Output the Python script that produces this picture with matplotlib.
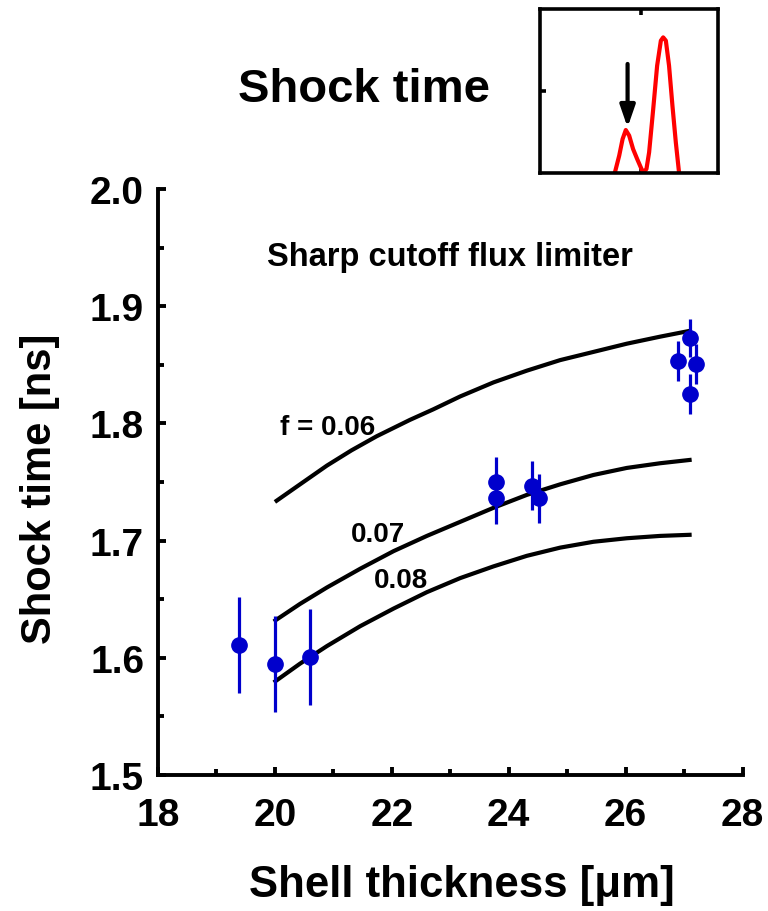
import matplotlib
matplotlib.use("Agg")
import matplotlib.pyplot as plt
from matplotlib.ticker import MultipleLocator

plt.rcParams['font.family'] = ['Liberation Sans', 'DejaVu Sans']
plt.rcParams['font.weight'] = 'bold'

# ---- data ----
# simulated curves (sharp cutoff flux limiter)
f06_x = [20.00, 20.43, 20.89, 21.31, 21.74, 22.31, 22.71, 23.17, 23.74,
         24.31, 24.88, 25.45, 26.02, 26.59, 27.10]
f06_y = [1.733, 1.748, 1.764, 1.777, 1.789, 1.803, 1.812, 1.823, 1.835,
         1.845, 1.854, 1.861, 1.868, 1.874, 1.879]
f07_x = [19.98, 20.43, 20.89, 21.46, 22.03, 22.60, 23.17, 23.74, 24.31,
         24.88, 25.45, 26.02, 26.59, 27.13]
f07_y = [1.631, 1.646, 1.660, 1.676, 1.691, 1.704, 1.716, 1.728, 1.739,
         1.748, 1.756, 1.762, 1.766, 1.769]
f08_x = [19.98, 20.43, 20.89, 21.46, 22.03, 22.60, 23.17, 23.74, 24.31,
         24.88, 25.45, 26.02, 26.59, 27.13]
f08_y = [1.579, 1.595, 1.610, 1.627, 1.642, 1.656, 1.668, 1.678, 1.687,
         1.694, 1.699, 1.702, 1.704, 1.705]

# measurements
exp_x = [19.38, 20.0, 20.6, 23.79, 23.79, 24.40, 24.51, 26.90, 27.10, 27.20, 27.10]
exp_y = [1.611, 1.595, 1.601, 1.750, 1.736, 1.747, 1.736, 1.853, 1.873, 1.851, 1.825]
exp_err = [0.041, 0.041, 0.041, 0.021, 0.022, 0.021, 0.021, 0.017, 0.016, 0.017, 0.017]

x_ticks = [18, 20, 22, 24, 26, 28]
y_ticks = [1.5, 1.6, 1.7, 1.8, 1.9, 2.0]

# inset pulse shape (normalized)
pulse_t = [0.421, 0.445, 0.464, 0.482, 0.501, 0.523, 0.546, 0.566, 0.579, 0.598,
           0.613, 0.636, 0.658, 0.679, 0.692, 0.707, 0.725, 0.744, 0.763, 0.781]
pulse_p = [0.004, 0.106, 0.207, 0.262, 0.228, 0.146, 0.085, 0.035, 0.004, 0.024,
           0.126, 0.390, 0.654, 0.807, 0.827, 0.807, 0.654, 0.411, 0.187, 0.004]
arrow_t = 0.492
arrow_tail = 0.665
arrow_tip = 0.278

# ---- figure ----
fig = plt.figure(figsize=(7.68, 9.12), dpi=100)
ax = fig.add_axes([158/768, 1-776/912, 584.5/768, 586/912])

for xs, ys in [(f06_x, f06_y), (f07_x, f07_y), (f08_x, f08_y)]:
    ax.plot(xs, ys, color='black', lw=3.0, solid_capstyle='butt',
            solid_joinstyle='round')

ax.errorbar(exp_x, exp_y, yerr=exp_err, fmt='o', color='#0000CC',
            ecolor='#0000CC', elinewidth=2.3, markersize=11, capsize=0, zorder=5)

ax.set_xlim(18, 28)
ax.set_ylim(1.5, 2.0)
ax.set_xticks(x_ticks)
ax.set_yticks(y_ticks)
ax.set_yticklabels([f"{v:.1f}" for v in y_ticks])
ax.xaxis.set_minor_locator(MultipleLocator(1))
ax.yaxis.set_minor_locator(MultipleLocator(0.05))
for s in ['top', 'right']:
    ax.spines[s].set_visible(False)
for s in ['left', 'bottom']:
    ax.spines[s].set_linewidth(2.8)
ax.tick_params(which='both', direction='in', width=2.8, labelsize=28)
ax.tick_params(which='major', length=6)
ax.tick_params(which='minor', length=4)
ax.tick_params(axis='x', which='major', pad=16)
ax.tick_params(axis='y', which='major', pad=10)
for lab in ax.get_xticklabels() + ax.get_yticklabels():
    lab.set_fontweight('bold')

ax.set_xlabel('Shell thickness [\u03bcm]', fontsize=31.5, fontweight='bold')
ax.set_ylabel('Shock time [ns]', fontsize=30, fontweight='bold')
ax.xaxis.set_label_coords(0.52, -0.152)
ax.yaxis.set_label_coords(-0.167, 0.49)

ax.text(0.5, 0.885, 'Sharp cutoff flux limiter', transform=ax.transAxes,
        ha='center', va='center', fontsize=23.5, fontweight='bold')
ax.text(20.91, 1.797, 'f = 0.06', ha='center', va='center', fontsize=20, fontweight='bold')
ax.text(21.76, 1.706, '0.07', ha='center', va='center', fontsize=20, fontweight='bold')
ax.text(22.16, 1.666, '0.08', ha='center', va='center', fontsize=20, fontweight='bold')

fig.text(364/768, 1-90/912, 'Shock time', ha='center', va='center',
         fontsize=34, fontweight='bold')

# ---- inset ----
ins = fig.add_axes([540/768, 1-174/912, 178/768, 164/912])
ins.plot(pulse_t, pulse_p, color='#FF0000', lw=3.0)
ins.annotate('', xy=(arrow_t, arrow_tip), xytext=(arrow_t, arrow_tail),
             arrowprops=dict(arrowstyle='-|>,head_width=0.45,head_length=1.3',
                             color='black', lw=3.0, shrinkA=0, shrinkB=0))
ins.set_xlim(0, 1)
ins.set_ylim(0, 1)
ins.set_xticks([0.57])
ins.set_yticks([0.5])
ins.tick_params(direction='in', length=4, width=2.6, top=True, bottom=True,
                left=True, right=False, labelbottom=False, labelleft=False)
for s in ins.spines.values():
    s.set_linewidth(2.6)

fig.savefig('out.png', dpi=100)
